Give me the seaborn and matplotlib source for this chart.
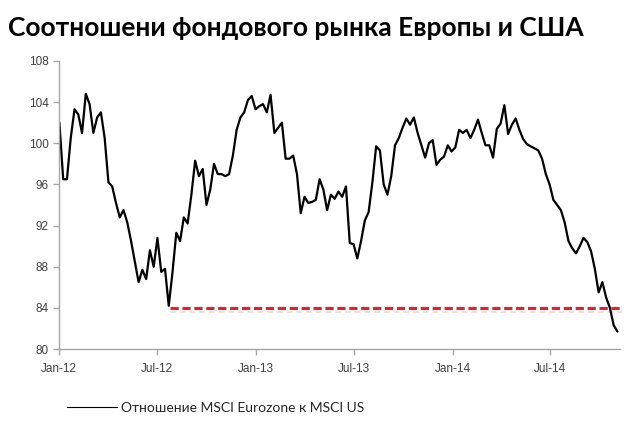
import matplotlib
matplotlib.use("Agg")
import matplotlib.pyplot as plt
import matplotlib.dates as mdates
import seaborn as sns
import pandas as pd

# weekly readings of the ratio, starting first Monday of 2012
ratio = [
    102.0, 96.5, 96.5, 100.5, 103.3, 102.8, 101.0, 104.8, 103.8, 101.0,
    102.5, 103.0, 100.5, 96.2, 95.8, 94.2, 92.8, 93.5, 92.3, 90.5,
    88.5, 86.5, 87.7, 86.8, 89.6, 88.0, 90.8, 87.5, 87.8, 84.2,
    87.5, 91.3, 90.5, 92.8, 92.2, 95.0, 98.3, 96.8, 97.5, 94.0,
    95.5, 98.0, 97.0, 97.0, 96.8, 97.0, 98.8, 101.3, 102.5, 103.0,
    104.2, 104.6, 103.3, 103.6, 103.8, 103.0, 104.7, 101.0, 101.5, 102.0,
    98.5, 98.5, 98.8, 97.0, 93.2, 94.8, 94.2, 94.3, 94.5, 96.5,
    95.5, 93.5, 95.0, 94.6, 95.3, 94.8, 95.8, 90.3, 90.2, 88.8,
    90.5, 92.5, 93.3, 96.2, 99.7, 99.3, 96.0, 95.0, 96.8, 99.8,
    100.5, 101.5, 102.4, 101.8, 102.5, 101.0, 99.8, 98.6, 100.0, 100.3,
    97.9, 98.4, 98.7, 99.8, 99.2, 99.6, 101.3, 101.0, 101.3, 100.5,
    101.3, 102.3, 101.0, 99.8, 99.8, 98.6, 101.4, 101.9, 103.7, 100.9,
    101.8, 102.4, 101.3, 100.4, 99.9, 99.7, 99.5, 99.3, 98.5, 97.0,
    96.0, 94.5, 94.0, 93.5, 92.3, 90.5, 89.8, 89.3, 90.0, 90.8,
    90.4, 89.5, 87.8, 85.5, 86.5, 85.0, 84.0, 82.3, 81.7,
]
dates = pd.date_range("2012-01-02", periods=len(ratio), freq="7D")

support_level = 84
support_start = "2012-07-25"
support_end = "2014-11-12"

title = "Соотношени фондового рынка Европы и США"
series_label = "Отношение MSCI Eurozone к MSCI US"
y_ticks = [80, 84, 88, 92, 96, 100, 104, 108]
x_ticks = ["2012-01-01", "2012-07-01", "2013-01-01", "2013-07-01", "2014-01-01", "2014-07-01"]

sns.set_style("white")
plt.rcParams["font.family"] = ["Liberation Sans", "DejaVu Sans"]

df = pd.DataFrame({"date": dates, "ratio": ratio})

fig = plt.figure(figsize=(6.4, 4.32), dpi=100)
ax = fig.add_axes([0.092, 0.192, 0.877, 0.667])

sns.lineplot(data=df, x="date", y="ratio", color="black", linewidth=1.6,
             label=series_label, ax=ax, legend=False)

# faint shadow + red dashed support line
ax.plot(pd.to_datetime([support_start, support_end]), [support_level - 0.4] * 2,
        color="#e4e4e4", linewidth=1.4, dashes=(3, 2), clip_on=False, zorder=1)
ax.plot(pd.to_datetime([support_start, support_end]), [support_level] * 2,
        color="#d7262c", linewidth=2.2, dashes=(2.7, 1.2), clip_on=False, zorder=3)

ax.set_ylim(80, 108)
ax.set_yticks(y_ticks)
ax.set_xlim(pd.Timestamp("2012-01-01"), pd.Timestamp("2014-11-08"))
ax.set_xticks(pd.to_datetime(x_ticks))
ax.xaxis.set_major_formatter(mdates.DateFormatter("%b-%y"))
ax.set_xlabel("")
ax.set_ylabel("")

for side in ["top", "right"]:
    ax.spines[side].set_visible(False)
for side in ["left", "bottom"]:
    ax.spines[side].set_color("#a6a6a6")
    ax.spines[side].set_linewidth(1)
ax.tick_params(axis="both", direction="out", length=4, width=1, color="#a6a6a6",
               labelsize=8.5, labelcolor="#404040", left=True, bottom=True)
ax.tick_params(axis="x", pad=6)

fig.text(0.012, 0.935, title, fontsize=19, fontweight="bold",
         family=["Lato", "DejaVu Sans"], color="black", va="center")

handles, labels = ax.get_legend_handles_labels()
fig.legend(handles, labels, loc="center left", bbox_to_anchor=(0.085, 0.055),
           frameon=False, handlelength=3.6, handletextpad=0.3,
           prop={"family": ["Lato", "DejaVu Sans"], "size": 10})
for line in fig.legends[0].get_lines():
    line.set_linewidth(0.8)

fig.savefig("out.png", dpi=100)
